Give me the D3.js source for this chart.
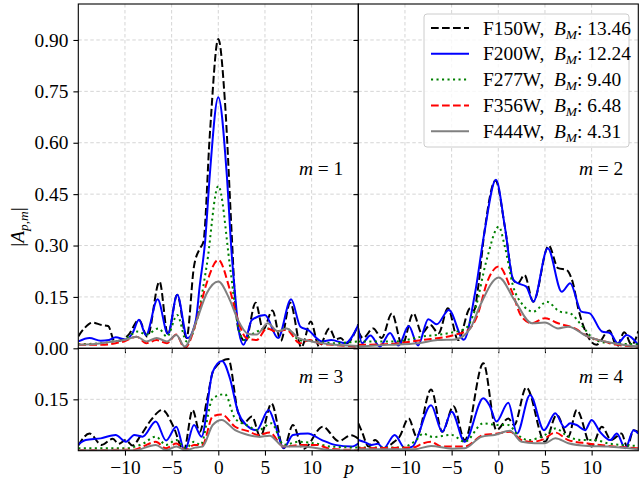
<!DOCTYPE html>
<html>
<head>
<meta charset="utf-8">
<script src="https://cdn.jsdelivr.net/npm/d3@7"></script>
<style>
  body { margin: 0; background: #fff; }
</style>
</head>
<body>
<svg id="chart" width="639" height="482"></svg>
<script>
// values, [p, |A_{p,m}|]
const m1F150W = [[-15,0.035],[-14.3,0.06],[-13.5,0.075],[-12.5,0.068],[-11.8,0.065],[-11.1,0.02],[-10.3,0.025],[-9.6,0.04],[-8.5,0.083],[-7.6,0.034],[-6.3,0.195],[-5.4,0.04],[-4.4,0.156],[-3.4,0.03],[-2.6,0.24],[-2.0,0.29],[-1.6,0.31],[-0.9,0.627],[0,0.903],[0.7,0.725],[1.43,0.336],[1.8,0.14],[2.2,0.05],[2.9,0.02],[4.0,0.133],[4.8,0.055],[5.8,0.11],[6.7,0.022],[7.7,0.133],[8.9,0.003],[9.9,0.078],[10.8,0.005],[11.9,0.058],[12.6,0.026],[13.1,0.03],[13.75,0.015],[15,0.07]];
const m1F200W = [[-15,0.02],[-13.8,0.03],[-12.6,0.022],[-11.7,0.024],[-11,0.032],[-9.9,0.026],[-9.2,0.044],[-8.5,0.083],[-7.75,0.039],[-6.5,0.143],[-5.4,0.042],[-4.4,0.156],[-3.3,0.03],[-2.4,0.083],[-2.0,0.18],[-1.4,0.316],[-0.9,0.51],[0,0.733],[0.9,0.51],[1.43,0.277],[1.8,0.157],[2.2,0.05],[2.7,0.01],[3.6,0.083],[5,0.097],[6.4,0.03],[7.8,0.143],[8.8,0.063],[9.6,0.054],[11.1,0.02],[12.1,0.024],[13.6,0.015],[15,0.068]];
const m1F277W = [[-15,0.012],[-12.5,0.015],[-11.2,0.02],[-10.2,0.024],[-8.6,0.049],[-7.7,0.04],[-6.4,0.058],[-5.5,0.034],[-4.4,0.097],[-3.4,0.02],[-2.3,0.083],[-1.25,0.24],[0,0.474],[1.25,0.24],[2.0,0.083],[2.7,0.024],[3.8,0.044],[5.2,0.058],[6.2,0.049],[7.3,0.058],[8.7,0.024],[10.5,0.02],[12.3,0.015],[15,0.02]];
const m1F356W = [[-15,0.01],[-12.5,0.01],[-11,0.015],[-10.1,0.02],[-8.75,0.034],[-7.7,0.015],[-6.6,0.024],[-5.5,0.015],[-4.5,0.04],[-3.6,0.0],[-2.3,0.083],[-1.25,0.19],[0,0.258],[1.25,0.17],[2.1,0.083],[3,0.03],[4.1,0.024],[5.2,0.058],[6.25,0.049],[7.3,0.054],[8.75,0.015],[9.8,0.024],[10.8,0.015],[12.3,0.01],[15,0.005]];
const m1F444W = [[-15,0.01],[-12.5,0.015],[-11.2,0.02],[-10.1,0.024],[-8.75,0.034],[-7.7,0.02],[-6.6,0.03],[-5.5,0.02],[-4.5,0.039],[-3.6,0.005],[-2.3,0.083],[-1.25,0.16],[0,0.195],[1.25,0.14],[2.1,0.083],[3.2,0.042],[4.1,0.04],[5.3,0.073],[6.4,0.049],[7.3,0.058],[8.6,0.03],[10,0.02],[12,0.012],[15,0.007]];

const m2F150W = [[-15,0.05],[-14.5,0.03],[-13.4,0.058],[-12.5,0.03],[-11.4,0.102],[-10.3,0.01],[-9.1,0.102],[-8.2,0.044],[-7.3,0.068],[-6.4,0.044],[-5.4,0.117],[-4.3,0.024],[-3.0,0.117],[-2.6,0.11],[-2.2,0.17],[-1.5,0.336],[-0.3,0.49],[0.7,0.355],[1.6,0.2],[2.1,0.19],[2.8,0.214],[3.75,0.136],[5.4,0.3],[6.4,0.234],[7.3,0.229],[8.0,0.19],[8.6,0.112],[9.5,0.04],[10.5,0.01],[11.9,0.052],[12.7,0.005],[13.5,0.047],[14.3,0.01],[15,0.05]];
const m2F200W = [[-15,0.058],[-14.6,0.015],[-13.7,0.037],[-12.7,0.005],[-11.6,0.045],[-10.7,0.008],[-9.6,0.065],[-8.6,0.008],[-7.5,0.085],[-6.6,0.07],[-5.3,0.112],[-3.7,0.025],[-2.5,0.16],[-1.5,0.336],[-0.25,0.492],[0.7,0.355],[1.6,0.2],[2.1,0.19],[3.0,0.18],[3.75,0.136],[5.3,0.292],[6.8,0.165],[7.7,0.19],[8.9,0.107],[9.8,0.102],[11.1,0.049],[12.0,0.044],[12.8,0.015],[13.75,0.039],[15,0.01]];
const m2F277W = [[-15,0.02],[-11,0.02],[-8.2,0.034],[-5.4,0.044],[-3.5,0.058],[-2.5,0.112],[-1.25,0.258],[0.05,0.355],[0.7,0.297],[1.6,0.18],[2.5,0.131],[3.75,0.107],[5.2,0.136],[6.6,0.107],[7.7,0.102],[8.9,0.068],[10.4,0.024],[12,0.015],[15,0.012]];
const m2F356W = [[-15,0.01],[-12,0.012],[-8.2,0.024],[-4.6,0.04],[-3.2,0.054],[-2.3,0.092],[-1.1,0.2],[0.05,0.239],[1.4,0.17],[2.5,0.092],[3.6,0.073],[5,0.088],[6.4,0.073],[8.2,0.058],[9.6,0.034],[11.4,0.02],[12.7,0.01],[15,0.005]];
const m2F444W = [[-15,0.005],[-12,0.01],[-8.6,0.015],[-6.5,0.024],[-4.6,0.026],[-3,0.058],[-2,0.122],[0.05,0.207],[1.75,0.14],[3.6,0.073],[5,0.075],[6.4,0.058],[7.5,0.063],[9.6,0.034],[11.4,0.02],[15,0.005]];

const m3F150W = [[-15,0.015],[-13.8,0.05],[-12.5,0.017],[-11.3,0.035],[-10.7,0.02],[-9.9,0.031],[-9.2,0.015],[-8.3,0.045],[-7.2,0.09],[-6.0,0.119],[-4.8,0.07],[-3.7,0.0],[-2.75,0.119],[-2.0,0.055],[-1.2,0.15],[-0.5,0.236],[1.07,0.268],[2.1,0.114],[2.7,0.08],[3.6,0.1],[4.5,0.041],[5.7,0.138],[7.0,0.007],[8.0,0.075],[9.1,0.005],[11.2,0.07],[12.9,0.028],[14.2,0.045],[15,0.035]];
const m3F200W = [[-15,0.018],[-14.2,0.031],[-12.6,0.036],[-11,0.046],[-9.9,0.026],[-9,0.046],[-8.1,0.041],[-6.7,0.085],[-5.6,0.03],[-4.5,0.07],[-3.6,0.0],[-2.6,0.075],[-1.8,0.041],[-0.6,0.23],[0.4,0.262],[1.25,0.211],[2.1,0.114],[3,0.075],[4.1,0.06],[5.4,0.119],[6.1,0.075],[7,0.008],[8,0.046],[9.6,0.05],[11.1,0.031],[12.5,0.017],[14.3,0.012],[15,0.021]];
const m3F277W = [[-15,0.007],[-10,0.007],[-8.1,0.02],[-6.7,0.041],[-5.6,0.017],[-4.5,0.031],[-3.5,0.007],[-2.6,0.026],[-1.9,0.017],[-0.6,0.153],[0.7,0.165],[1.8,0.094],[3,0.075],[4.3,0.06],[5.7,0.08],[7,0.017],[8.6,0.026],[10.4,0.021],[12.1,0.012],[15,0.009]];
const m3F356W = [[-15,0.002],[-9,0.003],[-8.1,0.012],[-6.7,0.026],[-5.6,0.007],[-4.5,0.021],[-3.5,0.002],[-2.6,0.017],[-1.7,0.017],[-0.6,0.1],[0.36,0.106],[1.8,0.07],[3.2,0.057],[4.3,0.046],[5.5,0.053],[7,0.012],[9,0.017],[10.5,0.017],[12.1,0.005],[15,0.002]];
const m3F444W = [[-15,0.001],[-9,0.001],[-6.7,0.017],[-5.6,0.002],[-4.5,0.012],[-3.5,0.001],[-2.5,0.009],[-1.7,0.012],[-0.6,0.075],[0.36,0.09],[1.8,0.06],[3.2,0.046],[4.3,0.041],[5.5,0.044],[7,0.012],[9,0.012],[12.1,0.002],[15,0.001]];

const m4F150W = [[-15,0.08],[-14.6,0.055],[-13.9,0.012],[-13.2,0.031],[-12.3,0.007],[-11.2,0.025],[-10.6,0.04],[-9.6,0.094],[-8.75,0.041],[-7.2,0.179],[-6.0,0.055],[-4.8,0.13],[-3.6,0.031],[-1.6,0.255],[-0.2,0.06],[1.07,0.094],[1.7,0.075],[3.0,0.185],[5.0,0.026],[6.25,0.104],[7.5,0.041],[8.4,0.119],[10,0.012],[11.1,0.07],[12.1,0.031],[13.2,0.05],[13.8,0.012],[14.5,0.06],[15,0.055]];
const m4F200W = [[-15,0.031],[-14.3,0.025],[-13.6,0.017],[-12.9,0.02],[-12.3,0.007],[-11.1,0.046],[-10,0.007],[-9.2,0.012],[-7.2,0.133],[-6.0,0.055],[-5.0,0.114],[-3.6,0.026],[-1.6,0.153],[-0.9,0.13],[-0.2,0.085],[1.07,0.14],[2.0,0.05],[3.4,0.163],[4.9,0.06],[6.1,0.109],[7.1,0.068],[7.7,0.08],[8.4,0.075],[9.3,0.06],[10,0.09],[10.9,0.055],[12,0.031],[12.7,0.05],[13.6,0.007],[14.5,0.06],[15,0.05]];
const m4F277W = [[-15,0.009],[-10.5,0.009],[-8.6,0.036],[-8.1,0.05],[-7,0.04],[-5,0.046],[-3.6,0.026],[-1.6,0.08],[0,0.075],[1.07,0.075],[2.1,0.046],[3.2,0.031],[5,0.046],[6.1,0.065],[7.5,0.041],[8.9,0.031],[10.4,0.031],[11.8,0.021],[15,0.014]];
const m4F356W = [[-15,0.007],[-9,0.01],[-8.2,0.02],[-7.2,0.026],[-6.1,0.012],[-3.6,0.012],[-1.6,0.046],[-0.4,0.049],[1.25,0.055],[2.5,0.031],[3.6,0.026],[4.8,0.033],[6.1,0.053],[7.5,0.031],[9.6,0.021],[11.8,0.014],[15,0.007]];
const m4F444W = [[-15,0.004],[-9,0.004],[-7.2,0.014],[-5,0.006],[-3.6,0.007],[-1.8,0.041],[-0.4,0.046],[1.25,0.058],[2.5,0.026],[3.9,0.022],[5,0.022],[6.1,0.036],[7.5,0.022],[9.6,0.014],[11.8,0.012],[15,0.004]];

const filters = ['F150W', 'F200W', 'F277W', 'F356W', 'F444W'];
const bmValues = ['13.46', '12.24', '9.40', '6.48', '4.31'];
const pTicks = [-10, -5, 0, 5, 10];
const yTicksTop = [0, 0.15, 0.30, 0.45, 0.60, 0.75, 0.90];
const yTicksBottom = [0.15];

const colors = ['#000000', '#0000ff', '#008000', '#ff0000', '#808080'];
const dashes = ['7.7,3.3', null, '2.1,3.4', '7.7,3.3', null];

const panelW = 280;
const fontSize = 19.4;
const lineW = 2;
const tick = 4.9;
const serif = '"Liberation Serif", "Times New Roman", Times, "DejaVu Serif", serif';

const panels = [
  { m: 1, series: [m1F150W, m1F200W, m1F277W, m1F356W, m1F444W], left: 78.3, top: 4, bottom: 348.3, yMax: 1.005, yTicks: yTicksTop, yLabels: true, xLabels: false },
  { m: 2, series: [m2F150W, m2F200W, m2F277W, m2F356W, m2F444W], left: 358.3, top: 4, bottom: 348.3, yMax: 1.005, yTicks: yTicksTop, yLabels: false, xLabels: false },
  { m: 3, series: [m3F150W, m3F200W, m3F277W, m3F356W, m3F444W], left: 78.3, top: 348.3, bottom: 450.7, yMax: 0.299, yTicks: yTicksBottom, yLabels: true, xLabels: true },
  { m: 4, series: [m4F150W, m4F200W, m4F277W, m4F356W, m4F444W], left: 358.3, top: 348.3, bottom: 450.7, yMax: 0.299, yTicks: yTicksBottom, yLabels: false, xLabels: true }
];

const svg = d3.select('#chart').attr('font-family', serif);

panels.forEach((pn, i) => {
  const x = d3.scaleLinear().domain([-15, 15]).range([pn.left, pn.left + panelW]);
  const y = d3.scaleLinear().domain([0, pn.yMax]).range([pn.bottom, pn.top]);
  const g = svg.append('g');

  // grid
  g.selectAll('.gx').data(pTicks).enter().append('line')
    .attr('x1', d => x(d)).attr('x2', d => x(d))
    .attr('y1', pn.top).attr('y2', pn.bottom)
    .attr('stroke', '#d0d0d0').attr('stroke-width', 0.9).attr('stroke-dasharray', '3.5,2.5');
  g.selectAll('.gy').data(pn.yTicks.filter(d => d > 0)).enter().append('line')
    .attr('x1', pn.left).attr('x2', pn.left + panelW)
    .attr('y1', d => y(d)).attr('y2', d => y(d))
    .attr('stroke', '#d0d0d0').attr('stroke-width', 0.9).attr('stroke-dasharray', '3.5,2.5');

  svg.append('clipPath').attr('id', 'clip' + i)
    .append('rect').attr('x', pn.left).attr('y', pn.top)
    .attr('width', panelW).attr('height', pn.bottom - pn.top);

  const line = d3.line().x(d => x(d[0])).y(d => y(d[1])).curve(d3.curveMonotoneX);

  g.append('g').attr('clip-path', 'url(#clip' + i + ')')
    .selectAll('path').data(pn.series).enter().append('path')
    .attr('d', line)
    .attr('fill', 'none')
    .attr('stroke', (d, k) => colors[k])
    .attr('stroke-width', lineW)
    .attr('stroke-dasharray', (d, k) => dashes[k]);

  // axes
  const xAxis = g.append('g')
    .attr('transform', 'translate(0,' + pn.bottom + ')')
    .call(d3.axisBottom(x).tickValues(pTicks).tickSize(tick).tickPadding(tick)
      .tickFormat(pn.xLabels ? d3.format('d') : ''));
  const yAxis = g.append('g')
    .attr('transform', 'translate(' + pn.left + ',0)')
    .call(d3.axisLeft(y).tickValues(pn.yTicks).tickSize(tick).tickPadding(tick)
      .tickFormat(pn.yLabels ? d3.format('.2f') : ''));
  [xAxis, yAxis].forEach(a => {
    a.attr('font-family', serif).attr('font-size', fontSize);
    a.select('.domain').remove();
    a.selectAll('line').attr('stroke', '#000').attr('stroke-width', 1.1);
    a.selectAll('text').attr('fill', '#000');
  });

  g.append('rect')
    .attr('x', pn.left).attr('y', pn.top)
    .attr('width', panelW).attr('height', pn.bottom - pn.top)
    .attr('fill', 'none').attr('stroke', '#000').attr('stroke-width', 1.1);

  const label = g.append('text')
    .attr('x', pn.left + panelW - 15).attr('y', pn.m <= 2 ? 175 : 383)
    .attr('text-anchor', 'end')
    .attr('font-size', fontSize).style('white-space', 'pre');
  label.append('tspan').attr('font-style', 'italic').text('m');
  label.append('tspan').text(' = ' + pn.m);
});

// legend, on top of the m = 2 panel
const legend = svg.append('g');
legend.append('rect')
  .attr('x', 424).attr('y', 14).attr('width', 205).attr('height', 133).attr('rx', 3)
  .attr('fill', '#fff').attr('fill-opacity', 0.8)
  .attr('stroke', '#cccccc').attr('stroke-width', 1);

filters.forEach((f, k) => {
  const cy = 28 + k * 25.8;
  legend.append('line')
    .attr('x1', 431).attr('x2', 469).attr('y1', cy).attr('y2', cy)
    .attr('stroke', colors[k]).attr('stroke-width', lineW)
    .attr('stroke-dasharray', dashes[k]);
  const t = legend.append('text')
    .attr('x', 483).attr('y', cy + 6.5)
    .attr('font-size', fontSize).style('white-space', 'pre');
  t.append('tspan').text(f + ',  ');
  t.append('tspan').attr('font-style', 'italic').text('B');
  t.append('tspan').attr('font-style', 'italic').attr('font-size', 13.5).attr('dy', 4).text('M');
  t.append('tspan').attr('dy', -4).text(': ' + bmValues[k]);
});

// axis titles
const yTitle = svg.append('text')
  .attr('transform', 'translate(24,227) rotate(-90)')
  .attr('text-anchor', 'middle')
  .attr('font-size', fontSize);
yTitle.append('tspan').text('|');
yTitle.append('tspan').attr('font-style', 'italic').text('A');
yTitle.append('tspan').attr('font-style', 'italic').attr('font-size', 13.5).attr('dy', 4).text('p,m');
yTitle.append('tspan').attr('dy', -4).text('|');

svg.append('text')
  .attr('x', 349).attr('y', 474)
  .attr('text-anchor', 'middle').attr('font-style', 'italic')
  .attr('font-size', fontSize)
  .text('p');
</script>
</body>
</html>
